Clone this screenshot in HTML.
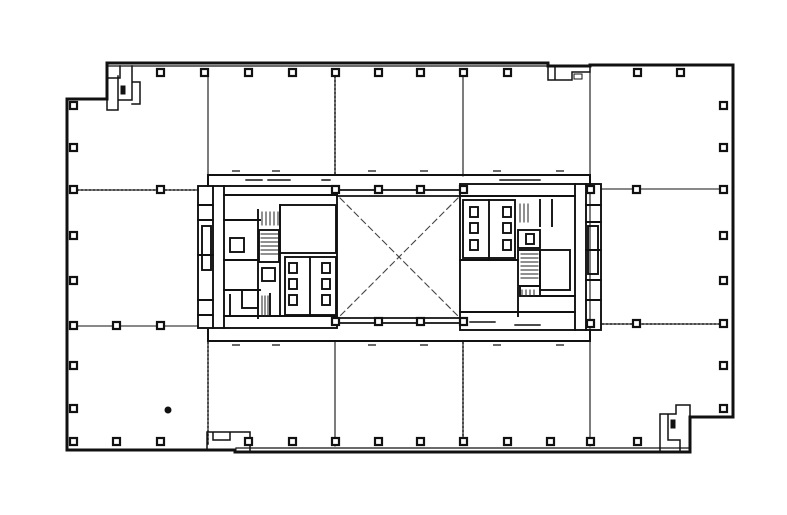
<!DOCTYPE html>
<html><head><meta charset="utf-8"><style>
html,body{margin:0;padding:0;background:#fff;}
svg{display:block;}
</style></head><body>
<svg width="787" height="515" viewBox="0 0 787 515" xmlns="http://www.w3.org/2000/svg">
<rect width="787" height="515" fill="#fff"/>
<g fill="none" stroke="#111" stroke-linecap="square">
<path d="M67,99 L107,99 L107,63 L548,63 L548,66 L590,66 L590,65 L733,65 L733,417 L690,417 L690,452 L235,452 L235,450 L67,450 Z" stroke-width="3"/>
<path d="M107,66 L548,66" stroke-width="1.2"/>
<path d="M236,448 L690,448" stroke-width="1.2"/>
<path d="M107,66 L107,78 L120,78 L120,66 M118,76 L118,100 L132,100 L132,66 M107,99 L107,110 L118,110 L118,99 M132,82 L140,82 L140,104 L132,104" stroke-width="1.5"/>
<rect x="121" y="86" width="4" height="8" fill="#111"/>
<path d="M548,66 L548,80 L572,80 L572,72 L590,72 L590,66 M555,66 L555,80" stroke-width="1.5"/>
<rect x="574" y="74" width="8" height="5"/>
<path d="M207,450 L207,432 L250,432 L250,450 M213,432 L213,440 L230,440 L230,432" stroke-width="1.5"/>
<path d="M660,450 L660,414 L676,414 L676,405 L690,405 L690,417 M668,414 L668,440 L680,440 L680,450" stroke-width="1.5"/>
<rect x="671" y="420" width="4" height="8" fill="#111"/>

<g stroke-width="1.1">
<path d="M208,72 V176"/>
<path d="M463,72 V176"/>
<path d="M335,342 V446"/>
<path d="M590,72 V446"/>
<path d="M73,326 H198"/>
<path d="M602,189 H723"/>
</g>
<g stroke-width="1.5" stroke-dasharray="2,2">
<path d="M335,72 V176"/>
<path d="M208,342 V446"/>
<path d="M463,342 V446"/>
<path d="M73,190 H198"/>
<path d="M602,324 H723"/>
</g>

<path d="M208,175 H590 V186 M208,175 V186" stroke-width="2"/>
<path d="M208,341 H590 V330 M208,341 V330" stroke-width="2"/>
<path d="M337,190 H460 M337,196 H460 M337,318 H460 M337,323 H460" stroke-width="1.8"/>
<path d="M340,198 L458,316 M458,198 L340,316" stroke-width="1.1" stroke-dasharray="6,4" stroke="#444"/>

<g stroke-width="1.9">
<rect x="198" y="186" width="139" height="142"/>
<path d="M213,186 V328 M224,186 V328"/>
<path d="M198,205 H213 M198,220 H213 M198,255 H213 M198,300 H213 M198,315 H213"/>
<rect x="202" y="226" width="9" height="44"/>
<path d="M224,195 H337 M224,220 H260 M224,260 H258 M224,290 H260 M224,316 H337"/>
<path d="M258,210 V318 M280,205 V316"/>
<rect x="259" y="230" width="20" height="32"/>
<rect x="280" y="205" width="56" height="48"/>
<rect x="285" y="257" width="51" height="58"/>
<path d="M310,257 V315"/>
<rect x="230" y="238" width="14" height="14"/>
<rect x="262" y="268" width="13" height="13"/>
<rect x="242" y="290" width="16" height="18"/>
<path d="M230,295 V316 M270,294 V316"/>
<path d="M246,180 H262 M268,180 H290 M322,180 H330" stroke-width="1.4"/>
</g>
<g stroke-width="1" stroke="#222">
<path d="M262,212 V225 M266,212 V225 M270,212 V225 M274,212 V225 M278,212 V225"/>
<path d="M261,234 H278 M261,238 H278 M261,242 H278 M261,246 H278 M261,250 H278 M261,254 H278"/>
<path d="M262,296 V316 M265,296 V316 M268,296 V316"/>
</g>
<g fill="#fff" stroke-width="1.9">
<rect x="289" y="263" width="8" height="10"/><rect x="289" y="279" width="8" height="10"/><rect x="289" y="295" width="8" height="10"/>
<rect x="322" y="263" width="8" height="10"/><rect x="322" y="279" width="8" height="10"/><rect x="322" y="295" width="8" height="10"/>
</g>

<g stroke-width="1.9">
<rect x="460" y="184" width="141" height="146"/>
<path d="M586,184 V330 M575,184 V330"/>
<path d="M586,205 H601 M586,222 H601 M586,250 H601 M586,280 H601 M586,300 H601"/>
<rect x="588" y="226" width="10" height="48"/>
<path d="M460,260 H518 M460,312 H575 M460,196 H575"/>
<rect x="463" y="200" width="52" height="58"/>
<path d="M489,200 V258"/>
<rect x="518" y="250" width="22" height="36"/>
<rect x="518" y="230" width="22" height="18"/>
<rect x="540" y="250" width="30" height="40"/>
<path d="M540,200 V226 M552,200 V226 M518,288 V316 M530,296 H575"/>
<rect x="520" y="286" width="20" height="10"/>
<path d="M500,180 H540 M470,322 H495 M515,325 H540" stroke-width="1.4"/>
</g>
<g stroke-width="1" stroke="#222">
<path d="M521,254 H538 M521,258 H538 M521,262 H538 M521,266 H538 M521,270 H538 M521,274 H538 M521,278 H538"/>
<path d="M522,290 V296 M526,290 V296 M530,290 V296 M534,290 V296"/>
<path d="M520,204 V222 M524,204 V222 M528,204 V222"/>
</g>
<g fill="#fff" stroke-width="1.9">
<rect x="470" y="207" width="8" height="10"/><rect x="470" y="223" width="8" height="10"/><rect x="470" y="240" width="8" height="10"/>
<rect x="503" y="207" width="8" height="10"/><rect x="503" y="223" width="8" height="10"/><rect x="503" y="240" width="8" height="10"/>
<rect x="526" y="234" width="8" height="10"/>
</g>
</g>

<g fill="#fff" stroke="#111" stroke-width="2.2">
<rect x="157" y="69" width="7" height="7"/><rect x="201" y="69" width="7" height="7"/><rect x="245" y="69" width="7" height="7"/>
<rect x="289" y="69" width="7" height="7"/><rect x="332" y="69" width="7" height="7"/><rect x="375" y="69" width="7" height="7"/>
<rect x="417" y="69" width="7" height="7"/><rect x="460" y="69" width="7" height="7"/><rect x="504" y="69" width="7" height="7"/>
<rect x="634" y="69" width="7" height="7"/><rect x="677" y="69" width="7" height="7"/>
<rect x="70" y="102" width="7" height="7"/><rect x="70" y="144" width="7" height="7"/><rect x="70" y="186" width="7" height="7"/>
<rect x="70" y="232" width="7" height="7"/><rect x="70" y="277" width="7" height="7"/><rect x="70" y="322" width="7" height="7"/>
<rect x="70" y="362" width="7" height="7"/><rect x="70" y="405" width="7" height="7"/>
<rect x="157" y="186" width="7" height="7"/><rect x="157" y="322" width="7" height="7"/>
<rect x="113" y="322" width="7" height="7"/>
<rect x="720" y="102" width="7" height="7"/><rect x="720" y="144" width="7" height="7"/><rect x="720" y="186" width="7" height="7"/>
<rect x="720" y="232" width="7" height="7"/><rect x="720" y="277" width="7" height="7"/><rect x="720" y="320" width="7" height="7"/>
<rect x="720" y="362" width="7" height="7"/><rect x="720" y="405" width="7" height="7"/>
<rect x="633" y="186" width="7" height="7"/><rect x="633" y="320" width="7" height="7"/>
<rect x="70" y="438" width="7" height="7"/><rect x="113" y="438" width="7" height="7"/><rect x="157" y="438" width="7" height="7"/>
<rect x="245" y="438" width="7" height="7"/><rect x="289" y="438" width="7" height="7"/><rect x="332" y="438" width="7" height="7"/>
<rect x="375" y="438" width="7" height="7"/><rect x="417" y="438" width="7" height="7"/><rect x="460" y="438" width="7" height="7"/>
<rect x="504" y="438" width="7" height="7"/><rect x="547" y="438" width="7" height="7"/><rect x="587" y="438" width="7" height="7"/>
<rect x="634" y="438" width="7" height="7"/>
<rect x="332" y="186" width="7" height="7"/><rect x="375" y="186" width="7" height="7"/><rect x="417" y="186" width="7" height="7"/>
<rect x="332" y="318" width="7" height="7"/><rect x="375" y="318" width="7" height="7"/><rect x="417" y="318" width="7" height="7"/>
<rect x="460" y="186" width="7" height="7"/><rect x="460" y="318" width="7" height="7"/>
<rect x="587" y="186" width="7" height="7"/><rect x="587" y="320" width="7" height="7"/>
</g>
<g fill="none" stroke="#111" stroke-width="1.3">
<path d="M232,171 h8 M272,171 h8 M368,171 h8 M420,171 h8 M493,171 h8 M556,171 h8"/>
<path d="M232,345 h8 M272,345 h8 M368,345 h8 M420,345 h8 M493,345 h8 M556,345 h8"/>
</g>
<circle cx="168" cy="410" r="3.5" fill="#111"/>
</svg>
</body></html>
